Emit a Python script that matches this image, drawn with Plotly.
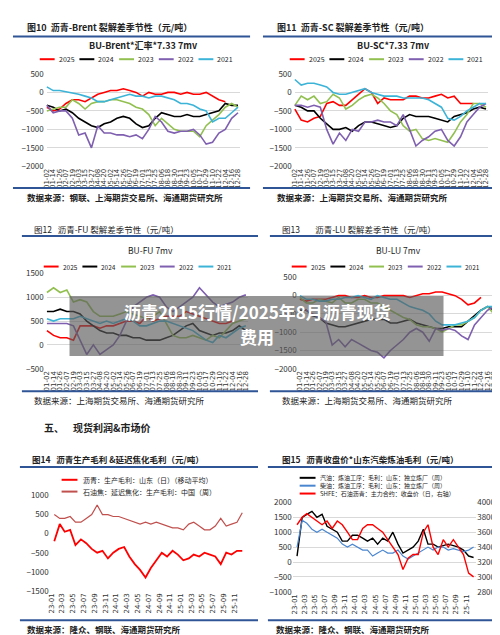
import datetime as dt
import plotly.graph_objects as go

FONT = "Noto Sans CJK SC"

# seasonal panels: sample dates (mm-dd), also the tick labels
season_ticks = ["01-02", "01-14", "01-26", "02-07", "02-19", "03-03", "03-15", "03-27", "04-08",
                "04-20", "05-02", "05-14", "05-26", "06-07", "06-19", "07-01", "07-13", "07-25",
                "08-06", "08-18", "08-30", "09-11", "09-23", "10-05", "10-17", "10-29", "11-10",
                "11-22", "12-04", "12-16", "12-28"]
years = ["2025", "2024", "2023", "2022", "2021"]
year_colors = ["#ff0000", "#000000", "#92c050", "#7f5fb0", "#3cb4d8"]

brent = {
    "2025": [-400, -500, -450, -300, -200, -200, -250, -150, -50, 0, 50, 50, 100, 50, 0, -100, 0, -50, -50, 0, 0, -50, 0, -50, -50, 0, -100, -200, -250],
    "2024": [-350, -400, -500, -450, -550, -700, -800, -900, -950, -850, -800, -700, -650, -700, -850, -950, -900, -700, -550, -600, -650, -650, -600, -650, -650, -600, -550, -500, -300, -350, -350],
    "2023": [-500, -450, -400, -400, -200, -300, -450, -300, -250, -250, -200, -200, -250, -300, -400, -450, -600, -900, -700, -850, -1000, -1050, -1050, -1050, -1200, -900, -750, -600, -400, -300, -400],
    "2022": [-350, -550, -500, -500, -700, -1150, -1100, -1500, -900, -1100, -1100, -1150, -1150, -1200, -1150, -1250, -1000, -650, -800, -1050, -1100, -1050, -1050, -1000, -1150, -1400, -1350, -1100, -1000, -700, -550],
    "2021": [150, 50, 50, 20, 0, -50, -100, -150, -250, -250, -200, -150, -100, -50, -100, -100, -150, -100, -100, -150, -200, -300, -300, -350, -450, -500, -800, -700, -700, -550, -400],
}
sc = {
    "2025": [-450, -750, -800, -700, -650, -300, -250, -350, -350, -200, -50, 100, 0, -300, -150, -200, -200, -200, -100, -100, -150, -150, -100, -50, -150, -100, -300, -300, -300],
    "2024": [-350, -400, -500, -500, -700, -850, -1000, -1000, -950, -1050, -900, -800, -800, -850, -900, -950, -900, -700, -600, -650, -650, -650, -700, -750, -800, -650, -600, -550, -450, -400, -450],
    "2023": [-350, -100, -200, -100, -300, -250, -50, -150, -450, -350, -200, -100, -50, -150, -300, -500, -600, -900, -1050, -1000, -1250, -1300, -1250, -1300, -1350, -1100, -800, -600, -300, -300, -400],
    "2022": [-350, -350, -400, -350, -400, -1000, -1400, -1100, -1300, -1000, -1050, -800, -800, -750, -800, -800, -900, -600, -1000, -1450, -1300, -1200, -1050, -1000, -1300, -1450, -1200, -800, -600, -400, -300],
    "2021": [350, 200, 250, 250, 200, 150, 0, -50, -50, 0, 50, 100, 0, -50, -100, -100, -100, -150, -150, -150, -150, -200, -300, -400, -700, -750, -650, -500, -400, -300, -300],
}
fu = {
    "2025": [300, 200, 150, 150, 100, 400, 400, 400, 350, 400, 400, 450, 500, 500, 450, 600, 500, 550, 600, 600, 600, 700, 650, 600, 550, 500, 450, 450, 500],
    "2024": [700, 700, 750, 700, 700, 650, 500, 400, 300, 250, 250, 200, 200, 150, 150, 100, 100, 100, 150, 200, 300, 400, 450, 300, 250, 200, 250, 250, 300, 400, 300],
    "2023": [1100, 1200, 1100, 1150, 900, 950, 900, 700, 600, 600, 600, 650, 700, 650, 600, 550, 600, 700, 450, 200, 150, 150, 200, 150, 100, 200, 150, 300, 450, 500, 550],
    "2022": [450, 450, 450, 450, 400, 100, -200, 0, -200, -100, 0, 200, 500, 800, 900, 1000, 1050, 1000, 800, 700, 800, 900, 1000, 1200, 1050, 900, 800, 850, 900, 1000, 1050],
    "2021": [550, 500, 550, 550, 550, 600, 550, 500, 450, 500, 450, 500, 550, 500, 400, 400, 450, 500, 500, 450, 400, 350, 300, 200, 100, 50, 200, 150, 250, 350, 400],
}
lu = {
    "2025": [-100, -150, -100, -100, -100, -50, 0, 0, -50, -50, 0, -50, -50, 0, 0, 0, 0, -50, 0, 50, 50, 100, 100, 50, 0, -100, -250, -200, -50],
    "2024": [-400, -400, -550, -600, -750, -800, -850, -850, -800, -750, -700, -650, -650, -650, -750, -750, -700, -650, -750, -800, -850, -900, -900, -850, -850, -850, -700, -550, -400, -300, -400],
    "2023": [-50, -200, -200, -100, -150, -200, -50, -200, -200, -100, -100, -200, -200, -300, -400, -500, -600, -650, -800, -850, -850, -900, -1000, -900, -800, -800, -700, -600, -400, -300, -500],
    "2022": [-300, -400, -500, -600, -700, -1350, -1200, -1400, -1200, -1300, -1400, -1500, -1550, -1700, -1500, -1350, -1200, -1000, -900, -1000, -1250, -900, -950, -900, -950, -1100, -1200, -800, -600, -400, -300],
    "2021": [0, -100, -100, -150, -150, -100, -100, -50, -50, 0, -50, -100, 0, -50, -100, -100, -200, -300, -350, -400, -500, -700, -800, -800, -800, -750, -700, -600, -400, -300, -300],
}

# monthly panels 2023-01 .. 2025-12
months = [f"{y}-{m:02d}-15" for y in (2023, 2024, 2025) for m in range(1, 13)]
month_ticks = [f"{y}-{m:02d}" for y in ("23", "24", "25") for m in (1, 3, 5, 7, 9, 11)]
asphalt_margin = [-200, 250, 50, 100, -300, -150, -250, -400, -500, -450, -650, -500, -400, -350, -600, -800, -950, -1150,
                  -900, -700, -500, -600, -450, -550, -700, -650, -550, -600, -500, -550, -600, -800, -500, -550, -450, -450]
coke_margin = [500, 400, 400, 450, 300, 300, 400, 500, 750, 500, 500, 450, 450, 400, 350, 300, 250, 300,
               250, 300, 250, 200, 150, 150, 100, 250, 300, 200, 100, 100, 200, 400, 200, 250, 300, 550]
gasoline = [200, 1500, 1600, 1700, 1500, 1600, 1200, 1100, 1000, 700, 700, 900, 900, 800, 700, 800, 600, 800,
            700, 1000, 600, 300, 400, 500, 700, 1100, 600, 600, 500, 550, 600, 550, 500, 400, 200, 150]
diesel = [500, 1400, 1300, 1100, 1000, 1100, 1000, 900, 800, 600, 500, 600, 500, 400, 400, 200, 300, 400,
          300, 300, 400, 200, 100, 200, 300, 400, 500, 400, 500, 500, 400, 450, 400, 350, 400, 500]
shfe = [3700, 3800, 3850, 3800, 3750, 3700, 3750, 3650, 3750, 3700, 3600, 3500, 3500, 3650, 3700, 3700, 3650, 3600,
        3500, 3400, 3300, 3100, 3250, 3300, 3300, 3600, 3700, 3400, 3300, 3500, 3400, 3500, 3400, 3300, 3050, 3000]


def doy(md):
    return dt.date(2021, int(md[:2]), int(md[3:])).timetuple().tm_yday


season_x = [doy(t) for t in season_ticks]
month_dates = [dt.date(2000 + int(t[:2]), int(t[3:]), 1) for t in month_ticks]

fig = go.Figure()
ann = []
shapes = []


def py(px):
    return 1 - px / 635


def text(x, y, s, size=9, color="#222", anchor="left", bold=False):
    ann.append(dict(x=x / 500, y=py(y), xref="paper", yref="paper", text=f"<b>{s}</b>" if bold else s,
                    showarrow=False, xanchor=anchor, yanchor="middle",
                    font=dict(size=size, color=color, family=FONT)))


def hline(x0, x1, y, color="#2f5597", width=2):
    shapes.append(dict(type="line", xref="paper", yref="paper", x0=x0 / 500, x1=x1 / 500,
                       y0=py(y), y1=py(y), line=dict(color=color, width=width)))


def legend_row(x, y, names, colors, step, seg=20, size=7):
    for i, (n, c) in enumerate(zip(names, colors)):
        x0 = x + i * step
        shapes.append(dict(type="line", xref="paper", yref="paper", x0=x0 / 500, x1=(x0 + seg) / 500,
                           y0=py(y), y1=py(y), line=dict(color=c, width=2)))
        text(x0 + seg + 2, y, n, size=size)


axis_font = dict(size=7, color="#333", family="DejaVu Sans")


def seasonal(idx, data, xdom, ydom, yr, dtick):
    xa = "x" if idx == 1 else f"x{idx}"
    ya = "y" if idx == 1 else f"y{idx}"
    for yname, col in zip(years, year_colors):
        vals = data[yname]
        fig.add_trace(go.Scatter(x=season_x[:len(vals)], y=vals, mode="lines", xaxis=xa, yaxis=ya,
                                 line=dict(color=col, width=1.6), showlegend=False))
    sfx = "" if idx == 1 else str(idx)
    fig.layout["xaxis" + sfx] = dict(domain=xdom, anchor=ya, range=[-2, 366], tickvals=season_x,
                                     ticktext=season_ticks, tickangle=-90, tickfont=axis_font,
                                     showgrid=False, showline=False, ticks="")
    fig.layout["yaxis" + sfx] = dict(domain=ydom, anchor=xa, range=yr, dtick=dtick, tickfont=dict(size=8, color="#333"),
                                     gridcolor="#d9d9d9", zeroline=False)


seasonal(1, brent, [0.07, 0.464], [py(155), py(61)], [-2000, 500], 500)
seasonal(2, sc, [0.57, 0.964], [py(155), py(61)], [-2000, 500], 500)
seasonal(3, fu, [0.07, 0.48], [py(361), py(264)], [-500, 1500], 500)
seasonal(4, lu, [0.58, 0.98], [py(361), py(268)], [-2000, 500], 500)

# panel 5
fig.add_trace(go.Scatter(x=months, y=asphalt_margin, mode="lines", xaxis="x5", yaxis="y5",
                         line=dict(color="#ff0000", width=1.8), showlegend=False))
fig.add_trace(go.Scatter(x=months, y=coke_margin, mode="lines", xaxis="x5", yaxis="y5",
                         line=dict(color="#c0504d", width=1.2), showlegend=False))
# panel 6
fig.add_trace(go.Scatter(x=months, y=gasoline, mode="lines", xaxis="x6", yaxis="y6",
                         line=dict(color="#000000", width=1.4), showlegend=False))
fig.add_trace(go.Scatter(x=months, y=diesel, mode="lines", xaxis="x6", yaxis="y6",
                         line=dict(color="#4a86d0", width=1.2), showlegend=False))
fig.add_trace(go.Scatter(x=months, y=shfe, mode="lines", xaxis="x6", yaxis="y7",
                         line=dict(color="#ff0000", width=1.4), showlegend=False))

mx = dict(range=["2022-12-20", "2025-12-31"], tickvals=month_dates, ticktext=month_ticks, tickangle=-90,
          tickfont=axis_font, showgrid=False, ticks="")
fig.layout.xaxis5 = dict(domain=[0.08, 0.474], anchor="y5", **mx)
fig.layout.yaxis5 = dict(domain=[py(587), py(490)], anchor="x5", range=[-1500, 1000], dtick=500,
                         tickfont=dict(size=8, color="#333"), gridcolor="rgba(0,0,0,0)", zeroline=False)
fig.layout.xaxis6 = dict(domain=[0.57, 0.94], anchor="y6", **mx)
fig.layout.yaxis6 = dict(domain=[py(588), py(497)], anchor="x6", range=[-1000, 2000], dtick=500,
                         tickfont=dict(size=8, color="#333"), gridcolor="#d9d9d9", zeroline=False)
fig.layout.yaxis7 = dict(overlaying="y6", side="right", anchor="x6", range=[2800, 4000], dtick=200,
                         tickfont=dict(size=8, color="#333"), showgrid=False, zeroline=False)

# headers, titles, legends, sources
for x0, fig_title, sub, src in [
    (10, "图10  沥青-Brent 裂解差季节性（元/吨）", "BU-Brent*汇率*7.33 7mv", "数据来源：钢联、上海期货交易所、海通期货研究所"),
    (262, "图11  沥青-SC 裂解差季节性（元/吨）", "BU-SC*7.33 7mv", "数据来源：上海期货交易所、海通期货研究所"),
]:
    text(x0 + 5, 14, fig_title, size=9, bold=True)
    hline(x0 - 7, x0 + 232, 23)
    text(x0 + 125, 32, sub, size=9, anchor="center", bold=True)
    legend_row(x0 + 20, 46, years, year_colors, 40, seg=15)
    hline(x0 - 7, x0 + 232, 177)
    text(x0 + 5, 186, src, size=8.5, bold=True)

for x0, fig_title, sub in [(12, "图12   沥青-FU 裂解差季节性（元/吨）", "BU-FU 7mv"),
                           (262, "图13        沥青-LU 裂解差季节性（元/吨）", "BU-LU 7mv")]:
    text(x0 + 10, 219, fig_title, size=8.5)
    hline(x0, x0 + 238, 226)
    text(x0 + 130, 240, sub, size=8.5, anchor="center")
    legend_row(x0 + 22, 257, years, year_colors, 39, seg=15, size=6.5)
    hline(x0, x0 + 238, 384)
    text(x0 + 10, 393, "数据来源：上海期货交易所、海通期货研究所", size=8.5)

text(32, 421, "五、    现货利润&市场价", size=10, bold=True)
text(20, 453, "图14   沥青生产毛利 &延迟焦化毛利（元/吨）", size=8.5, bold=True)
hline(10, 250, 461)
shapes.append(dict(type="line", xref="paper", yref="paper", x0=52 / 500, x1=68 / 500, y0=py(474), y1=py(474),
                   line=dict(color="#ff0000", width=2)))
text(72, 474, "沥青：生产毛利：山东（日）（移动平均）", size=7)
shapes.append(dict(type="line", xref="paper", yref="paper", x0=52 / 500, x1=68 / 500, y0=py(486), y1=py(486),
                   line=dict(color="#c0504d", width=2)))
text(72, 486, "石油焦：延迟焦化：生产毛利：中国（周）", size=7)
hline(10, 250, 617)
text(15, 626, "数据来源：隆众、钢联、海通期货研究所", size=8.5, bold=True)

text(272, 453, "图15   沥青收盘价*山东汽柴炼油毛利（元/吨）", size=8.5, bold=True)
hline(260, 500, 461)
for yy, c, s in [(472, "#000000", "汽油：炼油工序：毛利：山东：独立炼厂（周）"),
                 (480, "#4a86d0", "柴油：炼油工序：毛利：山东：独立炼厂（周）"),
                 (488, "#ff0000", "SHFE：石油沥青：主力合约：收盘价（日，右轴）")]:
    shapes.append(dict(type="line", xref="paper", yref="paper", x0=292 / 500, x1=308 / 500, y0=py(yy), y1=py(yy),
                       line=dict(color=c, width=2)))
    text(310, yy, s, size=6)
hline(260, 500, 617)
text(266, 626, "数据来源：隆众、钢联、海通期货研究所", size=8.5, bold=True)

# overlay banner
shapes.append(dict(type="rect", xref="paper", yref="paper", x0=60 / 500, x1=437 / 500, y0=py(348), y1=py(287),
                   fillcolor="rgba(90,90,90,0.65)", line=dict(width=0), layer="above"))
text(249, 303, "沥青2015行情/2025年8月沥青现货", size=17, color="white", anchor="center", bold=True)
text(249, 328, "费用", size=17, color="white", anchor="center", bold=True)

fig.update_layout(width=500, height=635, margin=dict(l=0, r=0, t=0, b=0), paper_bgcolor="white",
                  plot_bgcolor="white", annotations=ann, shapes=shapes, font=dict(family=FONT))
fig.write_html("out.html")
